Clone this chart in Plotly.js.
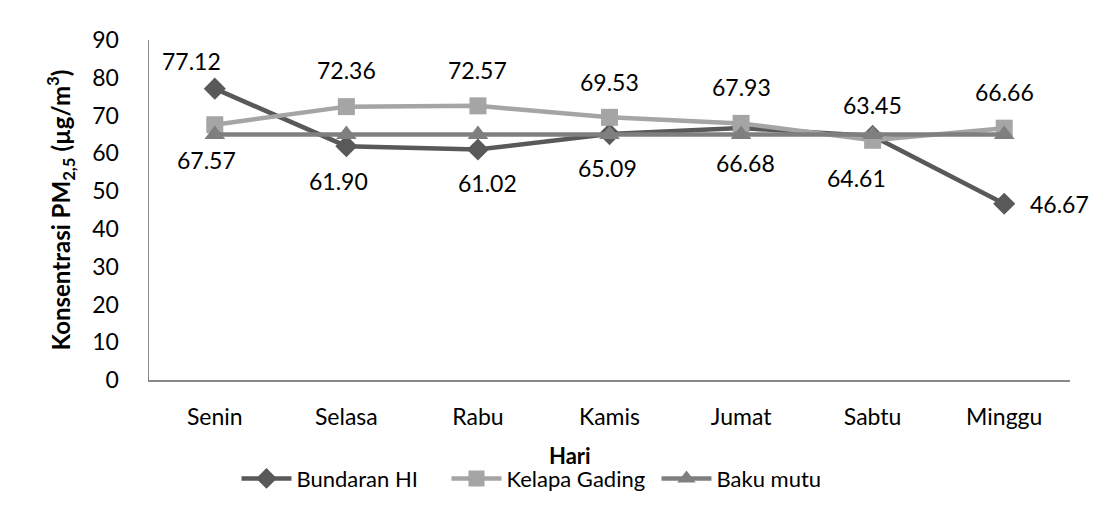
<!DOCTYPE html>
<html>
<head>
<meta charset="utf-8">
<script src="https://cdn.plot.ly/plotly-3.0.1.min.js"></script>
<style>html,body{margin:0;padding:0;background:#fff;}#chart{width:1118px;height:527px;}</style>
</head>
<body>
<div id="chart"></div>
<script>
const days = ["Senin", "Selasa", "Rabu", "Kamis", "Jumat", "Sabtu", "Minggu"];
const bundaranHI = [77.12, 61.90, 61.02, 65.09, 66.68, 64.61, 46.67];
const kelapaGading = [67.57, 72.36, 72.57, 69.53, 67.93, 63.45, 66.66];
const bakuMutu = [65, 65, 65, 65, 65, 65, 65];

// label offsets in pixels (style only)
const bhiShiftX = [-23, -8, 10, -2, 4, -16, 55];
const bhiShiftY = [28, -35, -34, -34, -35, -42, 0];
const kgShiftX = [-8, 0, 0, 0, 0, 0, 0];
const kgShiftY = [-35, 37, 36, 35, 36, 35, 36];

const FONT = "Lato, 'Open Sans', sans-serif";
const cDark = "#595959", cLight = "#a5a5a5", cMid = "#7f7f7f";
const FS = 23;

const traces = [
  {x: days, y: bundaranHI, name: "Bundaran HI", mode: "lines+markers", type: "scatter",
   line: {color: cDark, width: 4.5}, marker: {symbol: "diamond", size: 17, color: cDark}},
  {x: days, y: kelapaGading, name: "Kelapa Gading", mode: "lines+markers", type: "scatter",
   line: {color: cLight, width: 4.5}, marker: {symbol: "square", size: 17, color: cLight}},
  {x: days, y: bakuMutu, name: "Baku mutu", mode: "lines+markers", type: "scatter",
   line: {color: cMid, width: 4.5}, marker: {symbol: "triangle-up", size: 18, color: cMid}}
];

const annotations = [];
days.forEach((d, i) => {
  annotations.push({x: d, y: bundaranHI[i], text: bundaranHI[i].toFixed(2), showarrow: false,
    xshift: bhiShiftX[i], yshift: bhiShiftY[i], font: {family: FONT, size: FS, color: "#000"}});
  annotations.push({x: d, y: kelapaGading[i], text: kelapaGading[i].toFixed(2), showarrow: false,
    xshift: kgShiftX[i], yshift: kgShiftY[i], font: {family: FONT, size: FS, color: "#000"}});
});
annotations.push({xref: "paper", yref: "paper", x: 0.457, y: -0.222, text: "<b>Hari</b>", showarrow: false,
  xanchor: "center", yanchor: "middle", font: {family: FONT, size: 22, color: "#000"}});

const layout = {
  width: 1118, height: 527,
  margin: {l: 149, r: 48, t: 40, b: 147},
  paper_bgcolor: "#fff", plot_bgcolor: "#fff",
  font: {family: FONT, size: FS, color: "#000"},
  showlegend: true,
  legend: {orientation: "h", x: 0.095, xanchor: "left", y: -0.29, yanchor: "middle",
    font: {family: FONT, size: 22, color: "#000"}, itemwidth: 50, tracegroupgap: 0,
    entrywidth: 145, entrywidthmode: "pixels"},
  xaxis: {type: "category", range: [-0.5, 6.5], showline: true, linecolor: "#898989", linewidth: 1.5,
    showgrid: false, zeroline: false, ticks: "", ticklabelstandoff: 16,
    tickfont: {family: FONT, size: FS, color: "#000"}},
  yaxis: {range: [0, 90], dtick: 10, showline: true, linecolor: "#898989", linewidth: 1.5,
    showgrid: false, zeroline: false, ticks: "", ticklabelstandoff: 24,
    tickfont: {family: FONT, size: FS, color: "#000"},
    title: {text: "<b>Konsentrasi PM<sub>2,5</sub> (µg/m<sup>3</sup>)</b>", standoff: 15,
      font: {family: FONT, size: 24, color: "#000"}}},
  annotations: annotations
};

Plotly.newPlot("chart", traces, layout, {displayModeBar: false, staticPlot: true});
</script>
</body>
</html>
